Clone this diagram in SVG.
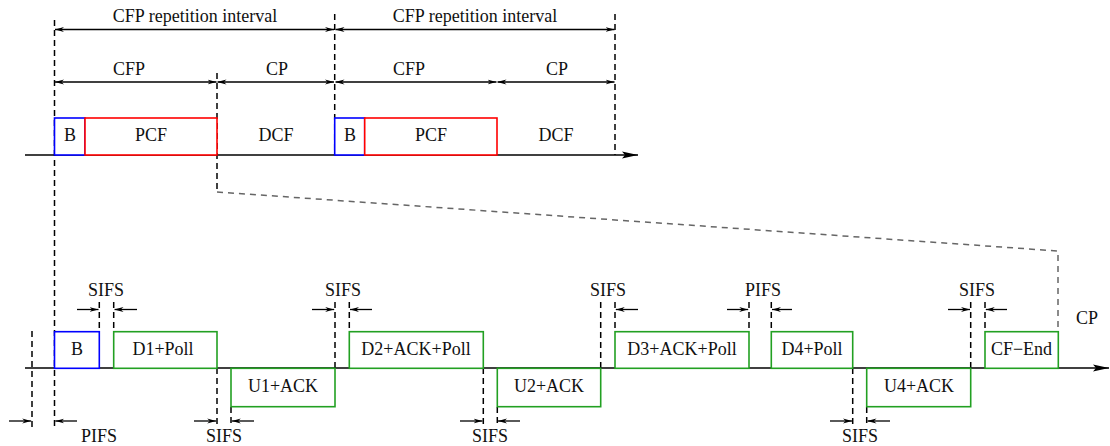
<svg xmlns="http://www.w3.org/2000/svg" width="1110" height="446" viewBox="0 0 1110 446">
<defs>
<marker id="ah" viewBox="0 0 10 6" refX="10" refY="3" markerUnits="userSpaceOnUse" markerWidth="9" markerHeight="6" orient="auto-start-reverse">
<path d="M10,3 L0,0.3 L3,3 L0,5.7 z" fill="#000"/>
</marker>
<marker id="tl" viewBox="0 0 16 8" refX="16" refY="4" markerUnits="userSpaceOnUse" markerWidth="16" markerHeight="8" orient="auto">
<path d="M16,4 L0,0.5 L3,4 L0,7.5 z" fill="#000"/>
</marker>
</defs>
<style>
text{font-family:"Liberation Serif","Times New Roman",serif;font-size:18px;fill:#111;text-anchor:middle}
.axis{stroke:#000;stroke-width:1.5;fill:none}
.dash{stroke:#000;stroke-width:1.5;stroke-dasharray:6 4;fill:none}
.grey{stroke:#666;stroke-width:1.5;stroke-dasharray:6 5;fill:none}
.dim{stroke:#000;stroke-width:1.3;fill:none;marker-end:url(#ah)}
.dbl{stroke:#000;stroke-width:1.3;fill:none;marker-start:url(#ah);marker-end:url(#ah)}
.blue{stroke:#0000ff;stroke-width:1.6;fill:#fff}
.red{stroke:#ff0000;stroke-width:1.6;fill:#fff}
.green{stroke:#22a022;stroke-width:1.6;fill:#fff}
</style>
<rect width="1110" height="446" fill="#fff"/>

<g id="connectors">
<!-- timelines -->
<line class="axis" x1="25" y1="155" x2="638" y2="155" style="marker-end:url(#tl)"/>
<line class="axis" x1="25" y1="368" x2="1109" y2="368" style="marker-end:url(#tl)"/>
<!-- top dashed verticals -->
<line class="dash" x1="54.5" y1="20" x2="54.5" y2="427"/>
<line class="dash" x1="217" y1="73" x2="217" y2="192"/>
<line class="dash" x1="334.7" y1="14" x2="334.7" y2="155"/>
<line class="dash" x1="615" y1="14" x2="615" y2="155"/>
<!-- zoom projection -->
<polyline class="grey" points="217,192 1058,251 1058,331"/>
<!-- dimension arrows top -->
<line class="dbl" x1="55" y1="29.5" x2="334" y2="29.5"/>
<line class="dbl" x1="335.5" y1="29.5" x2="614.5" y2="29.5"/>
<line class="dbl" x1="55" y1="82" x2="216.5" y2="82"/>
<line class="dbl" x1="217.5" y1="82" x2="334" y2="82"/>
<line class="dbl" x1="335.5" y1="82" x2="496.5" y2="82"/>
<line class="dbl" x1="497.5" y1="82" x2="614.5" y2="82"/>
<!-- bottom dashed verticals -->
<line class="dash" x1="32" y1="331" x2="32" y2="427"/>
<line class="dash" x1="99.3" y1="302" x2="99.3" y2="331"/>
<line class="dash" x1="113.7" y1="302" x2="113.7" y2="331"/>
<line class="dash" x1="217" y1="368" x2="217" y2="424"/>
<line class="dash" x1="231" y1="407" x2="231" y2="424"/>
<line class="dash" x1="335" y1="302" x2="335" y2="368"/>
<line class="dash" x1="349.3" y1="302" x2="349.3" y2="331"/>
<line class="dash" x1="483.3" y1="368" x2="483.3" y2="424"/>
<line class="dash" x1="497.3" y1="407" x2="497.3" y2="424"/>
<line class="dash" x1="600.7" y1="302" x2="600.7" y2="368"/>
<line class="dash" x1="615" y1="302" x2="615" y2="331"/>
<line class="dash" x1="749" y1="302" x2="749" y2="331"/>
<line class="dash" x1="771.3" y1="302" x2="771.3" y2="331"/>
<line class="dash" x1="852.7" y1="368" x2="852.7" y2="424"/>
<line class="dash" x1="866.7" y1="407" x2="866.7" y2="424"/>
<line class="dash" x1="970.7" y1="302" x2="970.7" y2="368"/>
<line class="dash" x1="985" y1="302" x2="985" y2="331"/>
<!-- interval arrows top row -->
<line class="dim" x1="77" y1="309.5" x2="98.5" y2="309.5"/>
<line class="dim" x1="137" y1="309.5" x2="114.5" y2="309.5"/>
<line class="dim" x1="312" y1="309.5" x2="334.2" y2="309.5"/>
<line class="dim" x1="372" y1="309.5" x2="350" y2="309.5"/>
<line class="dim" x1="638" y1="309.5" x2="615.8" y2="309.5"/>
<line class="dim" x1="727" y1="309.5" x2="748.2" y2="309.5"/>
<line class="dim" x1="792" y1="309.5" x2="772" y2="309.5"/>
<line class="dim" x1="948" y1="309.5" x2="970" y2="309.5"/>
<line class="dim" x1="1007" y1="309.5" x2="985.8" y2="309.5"/>
<!-- interval arrows bottom row -->
<line class="dim" x1="9" y1="421" x2="31.2" y2="421"/>
<line class="dim" x1="77" y1="421" x2="55.3" y2="421"/>
<line class="dim" x1="194" y1="421" x2="216.2" y2="421"/>
<line class="dim" x1="254" y1="421" x2="231.8" y2="421"/>
<line class="dim" x1="460" y1="421" x2="482.5" y2="421"/>
<line class="dim" x1="520" y1="421" x2="498" y2="421"/>
<line class="dim" x1="830" y1="421" x2="852" y2="421"/>
<line class="dim" x1="890" y1="421" x2="867.5" y2="421"/>
</g>

<g id="labels-top">
<text x="195" y="22">CFP repetition interval</text>
<text x="475" y="22">CFP repetition interval</text>
<text x="129" y="75">CFP</text>
<text x="277" y="75">CP</text>
<text x="409" y="75">CFP</text>
<text x="557" y="75">CP</text>
<text x="276" y="141">DCF</text>
<text x="556" y="141">DCF</text>
</g>

<g id="top-B1"><rect class="blue" x="54.5" y="118" width="30.5" height="37"/><text x="70" y="141">B</text></g>
<g id="top-PCF1"><rect class="red" x="85" y="118" width="132" height="37"/><text x="151" y="141">PCF</text></g>
<g id="top-B2"><rect class="blue" x="334.7" y="118" width="30" height="37"/><text x="350" y="141">B</text></g>
<g id="top-PCF2"><rect class="red" x="364.7" y="118" width="132.3" height="37"/><text x="431" y="141">PCF</text></g>

<g id="B"><rect class="blue" x="54.5" y="331.7" width="44.8" height="36.6"/><text x="77" y="355">B</text></g>
<g id="D1"><rect class="green" x="113.7" y="331.7" width="103.3" height="36.6"/><text x="163" y="355">D1+Poll</text></g>
<g id="U1"><rect class="green" x="231" y="368.3" width="104" height="38.4"/><text x="283" y="392">U1+ACK</text></g>
<g id="D2"><rect class="green" x="349.3" y="331.7" width="134" height="36.6"/><text x="416" y="355">D2+ACK+Poll</text></g>
<g id="U2"><rect class="green" x="497.3" y="368.3" width="103.4" height="38.4"/><text x="549" y="392">U2+ACK</text></g>
<g id="D3"><rect class="green" x="615" y="331.7" width="134" height="36.6"/><text x="682" y="355">D3+ACK+Poll</text></g>
<g id="D4"><rect class="green" x="771.3" y="331.7" width="81.4" height="36.6"/><text x="812" y="355">D4+Poll</text></g>
<g id="U4"><rect class="green" x="866.7" y="368.3" width="104" height="38.4"/><text x="919" y="392">U4+ACK</text></g>
<g id="CFEnd"><rect class="green" x="985" y="331.7" width="73.3" height="36.6"/><text x="1021.5" y="355">CF−End</text></g>

<g id="labels-bottom">
<text x="106" y="296">SIFS</text>
<text x="343" y="296">SIFS</text>
<text x="608" y="296">SIFS</text>
<text x="763" y="296">PIFS</text>
<text x="977" y="296">SIFS</text>
<text x="99" y="442">PIFS</text>
<text x="224" y="442">SIFS</text>
<text x="490" y="442">SIFS</text>
<text x="860" y="442">SIFS</text>
<text x="1087" y="324">CP</text>
</g>
</svg>
